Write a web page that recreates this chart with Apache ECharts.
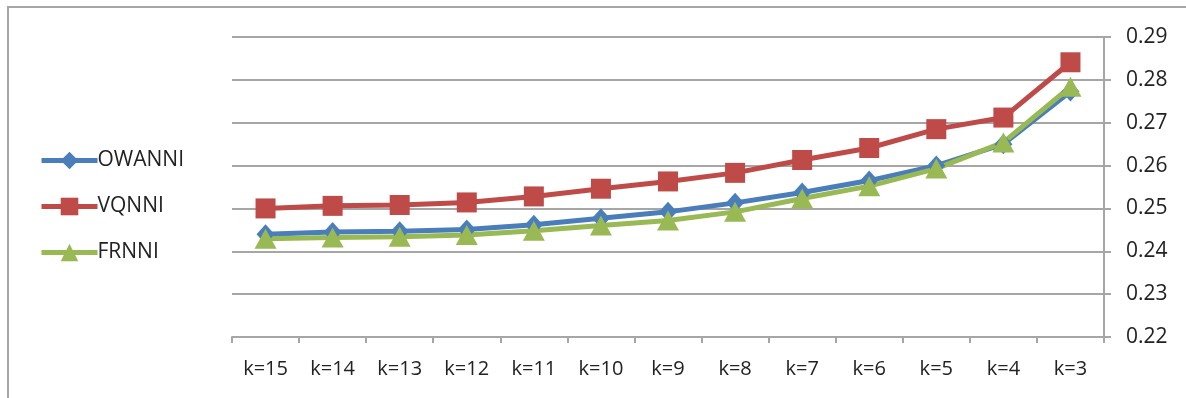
<!DOCTYPE html>
<html>
<head>
<meta charset="utf-8">
<script src="https://cdn.jsdelivr.net/npm/echarts@6/dist/echarts.min.js"></script>
<style>
  html, body { margin: 0; padding: 0; background: #fff; }
  #chart { width: 1186px; height: 398px; }
</style>
</head>
<body>
<div id="chart"></div>
<script>
// Neighbourhood size k, from largest to smallest
const categories = ['k=15', 'k=14', 'k=13', 'k=12', 'k=11', 'k=10', 'k=9', 'k=8', 'k=7', 'k=6', 'k=5', 'k=4', 'k=3'];

const owanni = [0.2440, 0.2445, 0.2447, 0.2451, 0.2462, 0.2477, 0.2492, 0.2513, 0.2537, 0.2565, 0.2600, 0.2650, 0.2773];
const vqnni  = [0.2500, 0.2506, 0.2508, 0.2514, 0.2528, 0.2546, 0.2563, 0.2583, 0.2613, 0.2641, 0.2685, 0.2712, 0.2841];
const frnni  = [0.2429, 0.2432, 0.2434, 0.2438, 0.2448, 0.2460, 0.2472, 0.2492, 0.2523, 0.2552, 0.2593, 0.2654, 0.2784];

const FONT = 'Open Sans';
const GRID_GREY = '#a6a6a6';

const chart = echarts.init(document.getElementById('chart'), null, { renderer: 'canvas' });

function lineSeries(name, data, color, symbol, size) {
  return {
    name: name,
    type: 'line',
    data: data,
    symbol: symbol,
    symbolSize: size,
    showAllSymbol: true,
    lineStyle: { color: color, width: 5 },
    itemStyle: { color: color, borderWidth: 0 },
    emphasis: { disabled: true },
    animation: false
  };
}

chart.setOption({
  animation: false,
  backgroundColor: '#ffffff',
  graphic: [{
    type: 'rect',
    shape: { x: 8, y: 7, width: 1300, height: 500 },
    style: { fill: 'none', stroke: GRID_GREY, lineWidth: 2 },
    silent: true,
    z: -1
  }],
  legend: {
    orient: 'vertical',
    left: 34,
    top: 145,
    itemWidth: 56,
    itemHeight: 22,
    itemGap: 25,
    lineStyle: { width: 5 },
    textStyle: { fontFamily: FONT, fontSize: 21, color: '#222', padding: [0, 0, 0, -5] },
    data: ['OWANNI', 'VQNNI', 'FRNNI']
  },
  grid: { left: 232, right: 82, top: 37, bottom: 61, containLabel: false },
  xAxis: {
    type: 'category',
    data: categories,
    boundaryGap: true,
    axisLine: { show: true, lineStyle: { color: GRID_GREY, width: 2 } },
    axisTick: { show: true, length: 6, alignWithLabel: false, lineStyle: { color: GRID_GREY, width: 2 } },
    axisLabel: { fontFamily: FONT, fontSize: 20, color: '#222', margin: 22, interval: 0 },
    splitLine: { show: false }
  },
  yAxis: {
    type: 'value',
    position: 'right',
    min: 0.22,
    max: 0.29,
    interval: 0.01,
    axisLine: { show: true, lineStyle: { color: GRID_GREY, width: 2 } },
    axisTick: { show: true, inside: false, length: 7, lineStyle: { color: GRID_GREY, width: 2 } },
    axisLabel: {
      fontFamily: FONT, fontSize: 21, color: '#222', margin: 22,
      formatter: v => v.toFixed(2)
    },
    splitLine: { show: true, lineStyle: { color: GRID_GREY, width: 2 } }
  },
  series: [
    lineSeries('OWANNI', owanni, '#4a7ebb', 'diamond', [18, 20]),
    lineSeries('VQNNI', vqnni, '#be4b48', 'rect', 20),
    lineSeries('FRNNI', frnni, '#98b954', 'triangle', [22, 20])
  ]
});
</script>
</body>
</html>
